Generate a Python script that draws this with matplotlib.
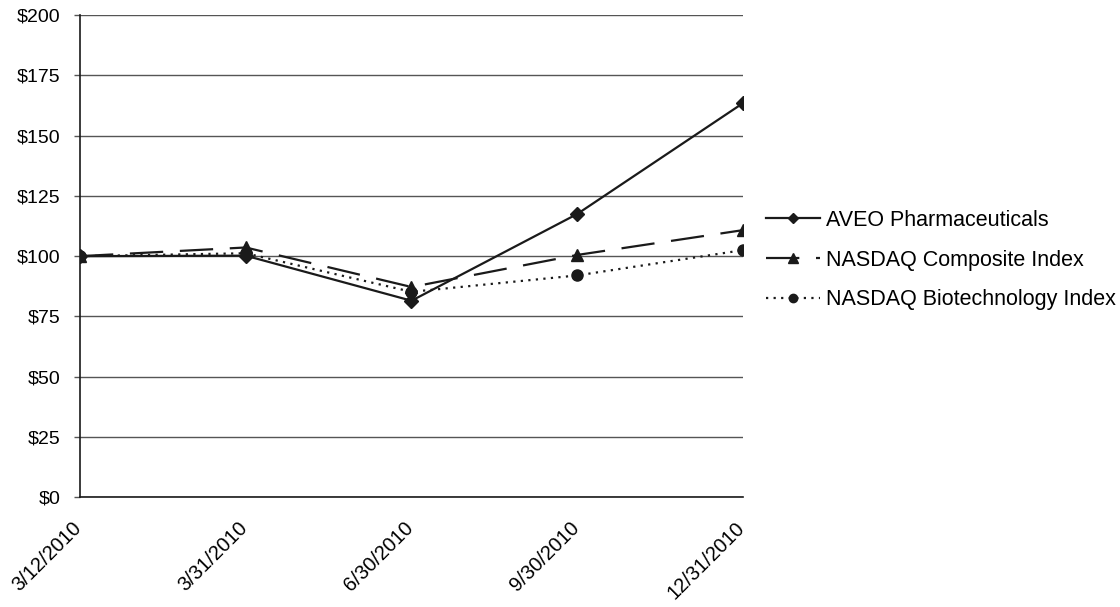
import matplotlib.pyplot as plt
import matplotlib.transforms as mtransforms

plt.rcParams['font.family'] = ['Liberation Sans', 'DejaVu Sans']

# Data
dates = ['3/12/2010', '3/31/2010', '6/30/2010', '9/30/2010', '12/31/2010']
aveo = [100, 100.2, 81.5, 117.5, 163.5]
nasdaq = [100, 103.6, 87.2, 100.5, 110.8]
biotech = [100, 101.2, 85.2, 92.0, 102.5]
yticks = [0, 25, 50, 75, 100, 125, 150, 175, 200]

fig = plt.figure(figsize=(11.2, 6.07), dpi=100)
ax = fig.add_axes([0.0714, 0.181, 0.592, 0.794])

x = range(len(dates))
ax.plot(x, aveo, color='#1a1a1a', lw=1.6, marker='D', ms=7,
        label='AVEO Pharmaceuticals', zorder=4)
ax.plot(x, nasdaq, color='#1a1a1a', lw=1.6, marker='^', ms=9,
        dashes=(15, 7.5), label='NASDAQ Composite Index', zorder=3)
ax.plot(x, biotech, color='#1a1a1a', lw=1.6, marker='o', ms=8,
        dashes=(1, 2.4), label='NASDAQ Biotechnology Index', zorder=3)

ax.set_xlim(0, len(dates) - 1)
ax.set_ylim(0, 200)
ax.set_yticks(yticks)
ax.set_yticklabels(['$%d' % v for v in yticks], fontsize=14)
ax.set_xticks(list(x))
ax.set_xticklabels(dates, fontsize=14.5, rotation=45, ha='right',
                   rotation_mode='anchor')
ax.tick_params(axis='x', length=0, pad=15)
ax.tick_params(axis='y', length=4, width=1, color='#555555', pad=10)

# nudge rotated date labels so they end right under their tick
shift = mtransforms.ScaledTranslation(-0.08, 0, fig.dpi_scale_trans)
for lbl in ax.get_xticklabels():
    lbl.set_transform(lbl.get_transform() + shift)

ax.yaxis.grid(True, color='#555555', lw=1)
ax.set_axisbelow(True)
for s in ['top', 'right']:
    ax.spines[s].set_visible(False)
ax.spines['left'].set_color('#1a1a1a')
ax.spines['bottom'].set_color('#1a1a1a')
ax.spines['left'].set_linewidth(1.2)
ax.spines['bottom'].set_linewidth(1.2)

ax.legend(loc='center left', bbox_to_anchor=(1.005, 0.492), frameon=False,
          fontsize=15.5, handlelength=2.5, handletextpad=0.3, labelspacing=0.88,
          markerscale=0.75)

fig.savefig('out.png', dpi=100)
